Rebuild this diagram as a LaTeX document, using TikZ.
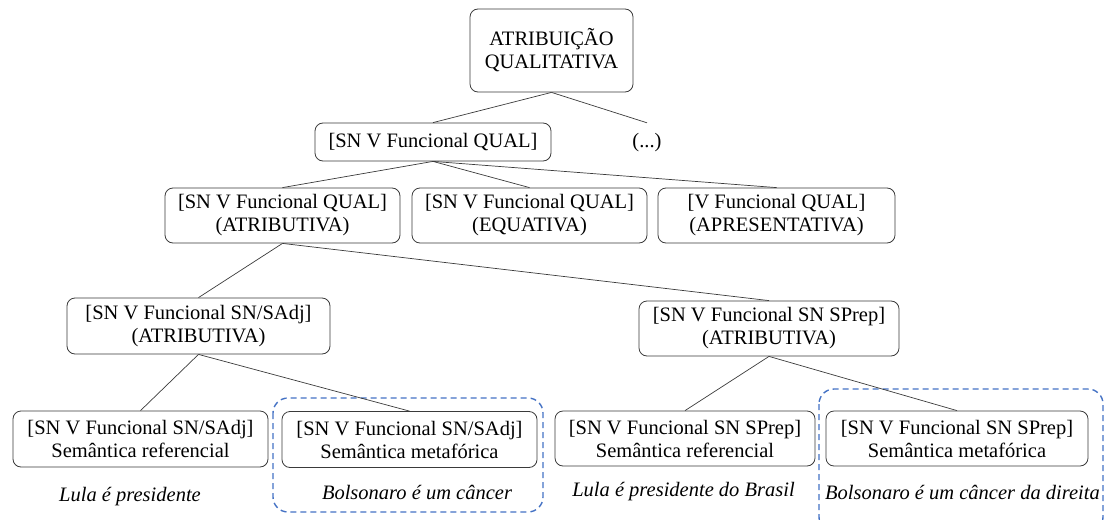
\documentclass[tikz,border=0pt]{standalone}
\usepackage{fontspec}
\setmainfont{Liberation Serif}
\newfontfamily\tnr{Liberation Serif}
\definecolor{dashblue}{HTML}{4472C4}
\definecolor{edgegray}{HTML}{3A3A3A}
\tikzset{
  box/.style={draw=edgegray, line width=0.8pt, rounded corners=8pt, align=center,
    inner sep=0pt, font=\tnr\fontsize{20.5}{23}\selectfont},
  plain/.style={inner sep=0pt, align=center, font=\tnr\fontsize{20.5}{23}\selectfont},
  example/.style={inner sep=0pt, font=\tnr\fontsize{20.5}{23}\selectfont\itshape},
  link/.style={draw=edgegray, line width=0.7pt},
  dashbox/.style={draw=dashblue, line width=1.4pt, dash pattern=on 6pt off 4pt, rounded corners=15pt}
}
\begin{document}
\begin{tikzpicture}[x=1pt,y=-1pt]
\useasboundingbox (0,0) rectangle (1110,519);
% dashed groupings
\draw[dashbox] (273,398) rectangle (543,512);
\draw[dashbox] (819,389) rectangle (1103,532);
% nodes
\node[box, minimum width=163pt, minimum height=83pt] (top) at (551.5,50.5) {ATRIBUIÇÃO\\QUALITATIVA};
\node[box, minimum width=236pt, minimum height=38pt] (q) at (433,142) {[SN V Funcional QUAL]};
\node[plain, minimum height=40pt] (dots) at (647,143) {(...)};
\node[box, minimum width=235pt, minimum height=55pt] (b1) at (282.5,215.5) {[SN V Funcional QUAL]\\(ATRIBUTIVA)};
\node[box, minimum width=235pt, minimum height=55pt] (b2) at (529.5,215.5) {[SN V Funcional QUAL]\\(EQUATIVA)};
\node[box, minimum width=237pt, minimum height=55pt] (b3) at (776.5,215.5) {[V Funcional QUAL]\\(APRESENTATIVA)};
\node[box, minimum width=263pt, minimum height=56pt] (l4) at (198.5,326) {[SN V Funcional SN/SAdj]\\(ATRIBUTIVA)};
\node[box, minimum width=260pt, minimum height=55pt] (r4) at (769,328.5) {[SN V Funcional SN SPrep]\\(ATRIBUTIVA)};
\node[box, minimum width=255pt, minimum height=56pt] (a) at (140.5,439) {[SN V Funcional SN/SAdj]\\Semântica referencial};
\node[box, minimum width=255pt, minimum height=56pt] (b) at (409.5,439.5) {[SN V Funcional SN/SAdj]\\Semântica metafórica};
\node[box, minimum width=260pt, minimum height=55pt] (c) at (685,438.5) {[SN V Funcional SN SPrep]\\Semântica referencial};
\node[box, minimum width=262pt, minimum height=55pt] (d) at (957,438.5) {[SN V Funcional SN SPrep]\\Semântica metafórica};
% examples
\node[example] (ea) at (130,497) {Lula é presidente};
\node[example] (eb) at (417,492) {Bolsonaro é um câncer};
\node[example] (ec) at (683.5,492) {Lula é presidente do Brasil};
\node[example] (ed) at (962.5,492) {Bolsonaro é um câncer da direita};
% connectors
\draw[link] (top.south) -- (q.north);
\draw[link] (top.south) -- (dots.north);
\draw[link] (q.south) -- (b1.north);
\draw[link] (q.south) -- (b2.north);
\draw[link] (q.south) -- (b3.north);
\draw[link] (b1.south) -- (l4.north);
\draw[link] (b1.south) -- (r4.north);
\draw[link] (l4.south) -- (a.north);
\draw[link] (l4.south) -- (b.north);
\draw[link] (r4.south) -- (c.north);
\draw[link] (r4.south) -- (d.north);
\end{tikzpicture}
\end{document}
